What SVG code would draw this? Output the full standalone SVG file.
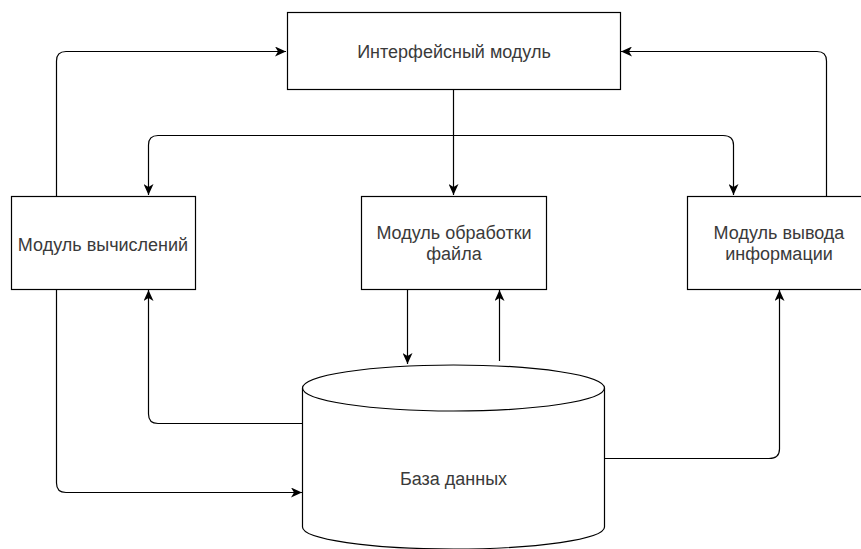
<svg xmlns="http://www.w3.org/2000/svg" width="861" height="549" viewBox="0 0 861 549">
<style>
.box{fill:#fff;stroke:#000;stroke-width:1.2}
.lbl{font-family:"Liberation Sans",Arial,sans-serif;font-size:18px;fill:#3a3a3a;text-anchor:middle}
.edge{fill:none;stroke:#000;stroke-width:1.2}
</style>
<defs>
<marker id="arr" markerUnits="userSpaceOnUse" markerWidth="12" markerHeight="10" viewBox="0 0 12 10" refX="11" refY="5" orient="auto-start-reverse">
<path d="M0,0 L11,5 L0,10 L3,5 Z" fill="#000"/>
</marker>
</defs>
<rect width="861" height="549" fill="#fff"/>
<g id="edges">
<path class="edge" d="M56.5,196 L56.5,61 Q56.5,51.5 66,51.5 L286,51.5" marker-end="url(#arr)"/>
<path class="edge" d="M453.5,89 L453.5,195" marker-end="url(#arr)"/>
<path class="edge" d="M148.5,195 L148.5,145 Q148.5,135.5 158,135.5 L723,135.5 Q733.5,135.5 733.5,145 L733.5,195" marker-start="url(#arr)" marker-end="url(#arr)"/>
<path class="edge" d="M826.5,196 L826.5,61 Q826.5,51.5 817,51.5 L621,51.5" marker-end="url(#arr)"/>
<path class="edge" d="M407.5,289 L407.5,364" marker-end="url(#arr)"/>
<path class="edge" d="M499.5,361 L499.5,290" marker-end="url(#arr)"/>
<path class="edge" d="M56.5,289 L56.5,483 Q56.5,492.5 66,492.5 L302,492.5" marker-end="url(#arr)"/>
<path class="edge" d="M303,423.5 L158,423.5 Q148.5,423.5 148.5,414 L148.5,290" marker-end="url(#arr)"/>
<path class="edge" d="M604,458.5 L769,458.5 Q779.5,458.5 779.5,449 L779.5,290" marker-end="url(#arr)"/>
</g>
<g id="interface">
<rect class="box" x="287.5" y="12.5" width="333" height="77"/>
<text class="lbl" x="454" y="58">Интерфейсный модуль</text>
</g>
<g id="calc">
<rect class="box" x="11.5" y="196.5" width="184" height="93"/>
<text class="lbl" x="103" y="251">Модуль вычислений</text>
</g>
<g id="file">
<rect class="box" x="361.5" y="196.5" width="185" height="93"/>
<text class="lbl" x="454" y="239">Модуль обработки</text>
<text class="lbl" x="454" y="260">файла</text>
</g>
<g id="output">
<rect class="box" x="687.5" y="196.5" width="184" height="93"/>
<text class="lbl" x="779" y="239">Модуль вывода</text>
<text class="lbl" x="779" y="260">информации</text>
</g>
<g id="db">
<path class="box" d="M302.5,388 A151,23 0 0 1 604.5,388 L604.5,527 A151,22 0 0 1 302.5,527 Z"/>
<path class="edge" d="M302.5,388 A151,23 0 0 0 604.5,388"/>
<text class="lbl" x="453.5" y="485">База данных</text>
</g>
</svg>
